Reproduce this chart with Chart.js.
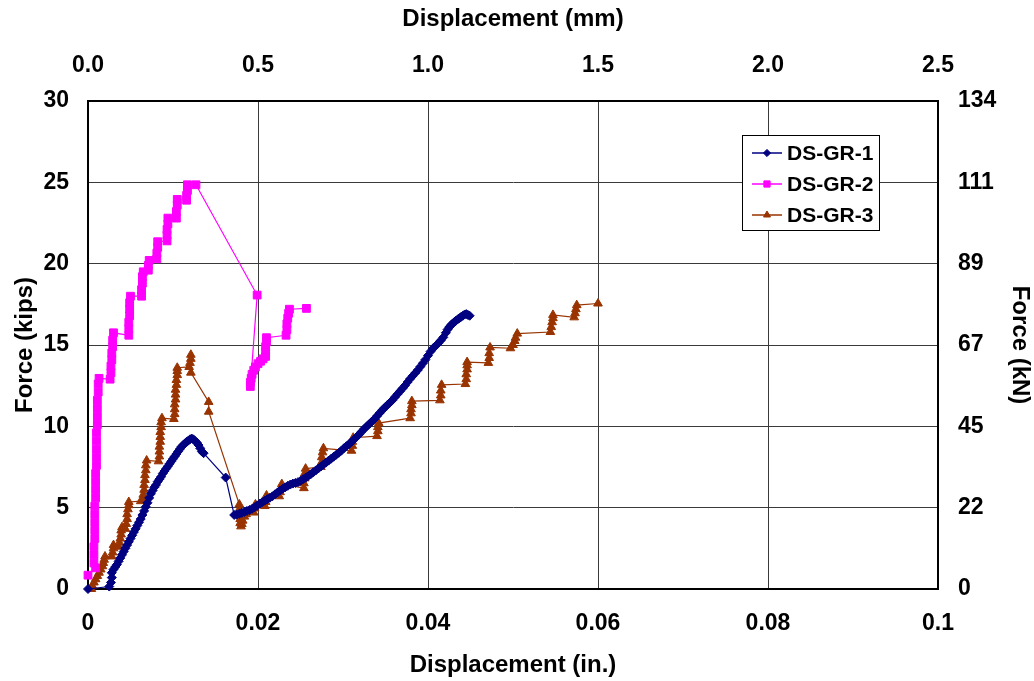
<!DOCTYPE html>
<html>
<head>
<meta charset="utf-8">
<script src="https://cdn.jsdelivr.net/npm/chart.js@4"></script>
<style>
  body { margin: 0; background: #fff; }
  canvas { display: block; }
</style>
</head>
<body>
<canvas id="chart" width="1034" height="681"></canvas>
<script>
// data (x = displacement in., y = force kips)
const gr1Points = [
  [0, 0], [0.0025, 0.15], [0.0027, 0.4], [0.0028, 0.7], [0.0028, 1.0], [0.0030, 1.2],
  [0.0032, 1.35], [0.0034, 1.5], [0.0036, 1.7], [0.0038, 1.9], [0.0040, 2.1], [0.0042, 2.3],
  [0.0044, 2.5], [0.0046, 2.7], [0.0048, 2.9], [0.0050, 3.1], [0.0052, 3.3], [0.0054, 3.5],
  [0.0056, 3.7], [0.0058, 3.9], [0.0060, 4.1], [0.0062, 4.3], [0.0064, 4.55], [0.0066, 4.8],
  [0.0068, 5.05], [0.0070, 5.3], [0.0072, 5.6], [0.0074, 5.85], [0.0076, 6.05], [0.0078, 6.25],
  [0.0080, 6.4], [0.0082, 6.6], [0.0084, 6.75], [0.0086, 6.9], [0.0088, 7.1], [0.0090, 7.25],
  [0.0092, 7.4], [0.0094, 7.55], [0.0096, 7.7], [0.0098, 7.85], [0.0100, 8.0], [0.0102, 8.15],
  [0.0104, 8.3], [0.0106, 8.45], [0.0108, 8.6], [0.0110, 8.75], [0.0112, 8.85], [0.0114, 8.95],
  [0.0116, 9.05], [0.0118, 9.12], [0.0120, 9.2], [0.0122, 9.25], [0.0124, 9.2], [0.0126, 9.1],
  [0.0128, 9.0], [0.0130, 8.85], [0.0132, 8.65], [0.0134, 8.45], [0.0136, 8.35], [0.0162, 6.85],
  [0.0172, 4.55], [0.0175, 4.57], [0.0178, 4.62], [0.0181, 4.68], [0.0184, 4.74], [0.0187, 4.8],
  [0.0190, 4.86], [0.0193, 4.93], [0.0196, 5.02], [0.0199, 5.12], [0.0202, 5.25], [0.0205, 5.34],
  [0.0208, 5.43], [0.0211, 5.52], [0.0214, 5.61], [0.0217, 5.7], [0.0220, 5.82], [0.0223, 5.94],
  [0.0226, 6.06], [0.0229, 6.16], [0.0232, 6.25], [0.0235, 6.34], [0.0238, 6.42], [0.0241, 6.48],
  [0.0244, 6.52], [0.0247, 6.57], [0.0250, 6.65], [0.0253, 6.75], [0.0256, 6.84], [0.0259, 6.95],
  [0.0262, 7.05], [0.0265, 7.17], [0.0268, 7.29], [0.0271, 7.41], [0.0274, 7.53], [0.0277, 7.65],
  [0.0280, 7.77], [0.0283, 7.89], [0.0286, 8.01], [0.0289, 8.13], [0.0292, 8.25], [0.0295, 8.37],
  [0.0298, 8.5], [0.0301, 8.65], [0.0304, 8.78], [0.0307, 8.9], [0.0310, 9.05], [0.0313, 9.2],
  [0.0316, 9.35], [0.0319, 9.5], [0.0322, 9.68], [0.0325, 9.85], [0.0328, 10.0], [0.0331, 10.15],
  [0.0334, 10.3], [0.0337, 10.45], [0.0340, 10.63], [0.0343, 10.81], [0.0346, 10.99], [0.0349, 11.15],
  [0.0352, 11.3], [0.0355, 11.45], [0.0358, 11.6], [0.0361, 11.79], [0.0364, 11.97], [0.0367, 12.15],
  [0.0370, 12.33], [0.0373, 12.51], [0.0376, 12.72], [0.0379, 12.92], [0.0382, 13.1], [0.0385, 13.28],
  [0.0388, 13.46], [0.0391, 13.67], [0.0394, 13.88], [0.0397, 14.1], [0.0400, 14.35], [0.0403, 14.6],
  [0.0406, 14.8], [0.0409, 14.95], [0.0412, 15.1], [0.0415, 15.28], [0.0418, 15.47], [0.0421, 15.75],
  [0.0423, 15.95], [0.0425, 16.1], [0.0427, 16.22], [0.0429, 16.32], [0.0431, 16.42], [0.0433, 16.5],
  [0.0435, 16.58], [0.0437, 16.65], [0.0439, 16.73], [0.0441, 16.8], [0.0443, 16.87], [0.0445, 16.9],
  [0.0447, 16.85], [0.0449, 16.8]
];

const gr2Points = [
  [0, 0.85], [0.0009, 1.3], [0.0007, 1.6], [0.0007, 2.1], [0.0007, 2.6], [0.0008, 3.1],
  [0.0008, 3.6], [0.0008, 4.1], [0.0008, 4.6], [0.0008, 5.1], [0.0009, 5.6], [0.0009, 6.1],
  [0.0009, 6.6], [0.0009, 7.1], [0.0010, 7.6], [0.0010, 8.1], [0.0010, 8.6], [0.0010, 9.1],
  [0.0010, 9.6], [0.0011, 10.1], [0.0011, 10.6], [0.0011, 11.1], [0.0011, 11.6], [0.0012, 12.1],
  [0.0012, 12.6], [0.0013, 12.95], [0.0026, 12.9], [0.0027, 13.3], [0.0027, 13.7], [0.0028, 14.1],
  [0.0028, 14.5], [0.0029, 14.9], [0.0029, 15.3], [0.0030, 15.75], [0.0048, 15.6], [0.0048, 16.0],
  [0.0048, 16.4], [0.0049, 16.8], [0.0049, 17.2], [0.0049, 17.6], [0.0050, 18.0], [0.0063, 18.0],
  [0.0063, 18.4], [0.0064, 18.8], [0.0064, 19.2], [0.0065, 19.5], [0.0071, 19.6], [0.0071, 19.9],
  [0.0072, 20.2], [0.0081, 20.3], [0.0081, 20.65], [0.0082, 21.0], [0.0082, 21.35], [0.0093, 21.4],
  [0.0093, 21.75], [0.0093, 22.1], [0.0094, 22.45], [0.0094, 22.8], [0.0104, 22.8], [0.0104, 23.2],
  [0.0105, 23.6], [0.0105, 23.95], [0.0116, 23.9], [0.0116, 24.2], [0.0117, 24.5], [0.0117, 24.85],
  [0.0127, 24.85], [0.0199, 18.07], [0.0191, 12.45], [0.0191, 12.7], [0.0192, 12.95], [0.0193, 13.2],
  [0.0195, 13.45], [0.0197, 13.65], [0.0200, 13.85], [0.0203, 14.0], [0.0206, 14.15], [0.0209, 14.3],
  [0.0209, 14.6], [0.0209, 14.9], [0.0210, 15.2], [0.0210, 15.45], [0.0233, 15.6], [0.0234, 15.95],
  [0.0234, 16.3], [0.0235, 16.65], [0.0236, 16.95], [0.0237, 17.2], [0.0257, 17.25]
];

const gr3Points = [
  [0.0004, 0.0], [0.0005, 0.2], [0.0007, 0.4], [0.0009, 0.6], [0.0011, 0.8], [0.0013, 1.0],
  [0.0015, 1.2], [0.0017, 1.4], [0.0018, 1.6], [0.0019, 1.8], [0.0020, 2.0], [0.0028, 2.0],
  [0.0029, 2.25], [0.0030, 2.5], [0.0030, 2.7], [0.0036, 2.6], [0.0037, 2.85], [0.0038, 3.1],
  [0.0039, 3.35], [0.0039, 3.6], [0.0040, 3.8], [0.0044, 3.7], [0.0045, 4.0], [0.0046, 4.3],
  [0.0046, 4.6], [0.0047, 4.9], [0.0048, 5.15], [0.0048, 5.35], [0.0062, 5.4], [0.0065, 5.5],
  [0.0065, 5.8], [0.0066, 6.1], [0.0066, 6.4], [0.0067, 6.7], [0.0067, 7.0], [0.0068, 7.3],
  [0.0068, 7.6], [0.0069, 7.9], [0.0083, 7.85], [0.0084, 8.15], [0.0084, 8.45], [0.0084, 8.75],
  [0.0085, 9.05], [0.0085, 9.35], [0.0085, 9.65], [0.0086, 9.95], [0.0086, 10.25], [0.0087, 10.5],
  [0.0101, 10.45], [0.0102, 10.75], [0.0102, 11.05], [0.0102, 11.35], [0.0103, 11.65], [0.0103, 11.95],
  [0.0103, 12.25], [0.0104, 12.55], [0.0104, 12.85], [0.0105, 13.15], [0.0105, 13.4], [0.0105, 13.6],
  [0.0119, 13.65], [0.0120, 13.9], [0.0121, 14.15], [0.0121, 14.4], [0.0121, 13.3], [0.0142, 11.5],
  [0.0142, 10.9], [0.0178, 5.2], [0.0178, 4.9], [0.0178, 4.6], [0.0179, 4.3], [0.0179, 4.05],
  [0.0180, 3.85], [0.0181, 4.0], [0.0182, 4.2], [0.0184, 4.45], [0.0186, 4.6], [0.0195, 4.7],
  [0.0196, 4.95], [0.0197, 5.2], [0.0208, 5.1], [0.0209, 5.35], [0.0210, 5.6], [0.0210, 5.75],
  [0.0225, 5.7], [0.0226, 5.95], [0.0227, 6.2], [0.0228, 6.45], [0.0254, 6.2], [0.0254, 6.5],
  [0.0255, 6.8], [0.0255, 7.1], [0.0256, 7.4], [0.0274, 7.5], [0.0275, 7.8], [0.0275, 8.1],
  [0.0276, 8.4], [0.0277, 8.65], [0.0310, 8.5], [0.0311, 8.8], [0.0311, 9.05], [0.0312, 9.3],
  [0.0340, 9.4], [0.0341, 9.7], [0.0341, 9.95], [0.0342, 10.2], [0.0379, 10.5], [0.0380, 10.8],
  [0.0380, 11.05], [0.0381, 11.3], [0.0381, 11.55], [0.0414, 11.6], [0.0415, 11.9], [0.0415, 12.2],
  [0.0416, 12.55], [0.0444, 12.6], [0.0445, 12.9], [0.0445, 13.2], [0.0446, 13.5], [0.0446, 13.75],
  [0.0446, 13.95], [0.0471, 13.9], [0.0472, 14.2], [0.0472, 14.5], [0.0473, 14.85], [0.0497, 14.8],
  [0.0500, 15.0], [0.0502, 15.25], [0.0503, 15.45], [0.0505, 15.7], [0.0544, 15.8], [0.0545, 16.1],
  [0.0546, 16.4], [0.0547, 16.65], [0.0547, 16.85], [0.0572, 16.7], [0.0573, 16.95], [0.0574, 17.2],
  [0.0575, 17.45], [0.0600, 17.55]
];

const seriesNames = ['DS-GR-1', 'DS-GR-2', 'DS-GR-3'];
const seriesColors = ['#000080', '#FF00FF', '#993300'];
const seriesMarkers = ['rectRot', 'rect', 'triangle'];

const inchTickLabels = ['0', '0.02', '0.04', '0.06', '0.08', '0.1'];
const mmTickLabels = ['0.0', '0.5', '1.0', '1.5', '2.0', '2.5'];
const kipTickLabels = ['0', '5', '10', '15', '20', '25', '30'];
const kNTickLabels = ['0', '22', '45', '67', '89', '111', '134'];

const FONT = '"Liberation Sans", Arial, sans-serif';
const tickFont = { family: FONT, size: 23, weight: 'bold' };
const titleFont = { family: FONT, size: 24, weight: 'bold' };

function toXY(pts) {
  return pts.map(p => ({ x: p[0], y: p[1] }));
}

const markerRadius = [4.5, 5.5, 5];
const datasets = [gr1Points, gr2Points, gr3Points].map((pts, i) => ({
  label: seriesNames[i],
  data: toXY(pts),
  borderColor: seriesColors[i],
  backgroundColor: seriesColors[i],
  borderWidth: 1.2,
  pointStyle: seriesMarkers[i],
  pointRadius: markerRadius[i],
  pointBorderWidth: 1,
  pointHoverRadius: markerRadius[i],
  tension: 0,
  clip: false,
  xAxisID: 'x',
  yAxisID: 'y'
}));

// legend box drawn inside the plot, like the original
const boxLegend = {
  id: 'boxLegend',
  afterDatasetsDraw(chart) {
    const ctx = chart.ctx;
    const bx = 742.5, by = 135.5, bw = 137, bh = 95;
    ctx.save();
    ctx.fillStyle = '#fff';
    ctx.fillRect(bx, by, bw, bh);
    ctx.strokeStyle = '#000';
    ctx.lineWidth = 1;
    ctx.strokeRect(bx, by, bw, bh);
    const rows = [153, 184, 215];
    seriesNames.forEach((name, i) => {
      const y = rows[i];
      ctx.strokeStyle = seriesColors[i];
      ctx.lineWidth = 1.5;
      ctx.beginPath();
      ctx.moveTo(752, y);
      ctx.lineTo(782, y);
      ctx.stroke();
      ctx.fillStyle = seriesColors[i];
      ctx.strokeStyle = seriesColors[i];
      ctx.lineWidth = 1;
      Chart.helpers.drawPoint(ctx, { pointStyle: seriesMarkers[i], radius: markerRadius[i] * 0.8, borderWidth: 1 }, 767, y);
      ctx.fillStyle = '#000';
      ctx.font = 'bold 21px ' + FONT;
      ctx.textBaseline = 'middle';
      ctx.textAlign = 'left';
      ctx.fillText(name, 787, y + 1);
    });
    ctx.restore();
  }
};

const gridColor = '#3a3a3a';

new Chart(document.getElementById('chart'), {
  type: 'line',
  data: { datasets },
  plugins: [boxLegend],
  options: {
    responsive: false,
    animation: false,
    devicePixelRatio: 1,
    layout: { padding: 0 },
    plugins: {
      legend: { display: false },
      tooltip: { enabled: false }
    },
    scales: {
      x: {
        type: 'linear',
        position: 'bottom',
        min: 0,
        max: 0.1,
        ticks: {
          stepSize: 0.02,
          padding: 21,
          color: '#000',
          font: tickFont,
          maxRotation: 0,
          callback: (v, i) => inchTickLabels[i]
        },
        grid: { color: gridColor, lineWidth: 1, drawTicks: false },
        border: { display: true, color: '#000', width: 2 },
        title: { display: true, text: 'Displacement (in.)', color: '#000', font: titleFont, padding: { top: 0, bottom: 1 } },
        afterFit: s => { s.height = 92; }
      },
      x2: {
        type: 'linear',
        position: 'top',
        min: 0,
        max: 2.5,
        ticks: {
          stepSize: 0.5,
          padding: 22,
          color: '#000',
          font: tickFont,
          maxRotation: 0,
          callback: (v, i) => mmTickLabels[i]
        },
        grid: { display: false, drawTicks: false },
        border: { display: true, color: '#000', width: 2 },
        title: { display: true, text: 'Displacement (mm)', color: '#000', font: titleFont, padding: { top: 5, bottom: 0 } },
        afterFit: s => { s.height = 101; }
      },
      y: {
        type: 'linear',
        position: 'left',
        min: 0,
        max: 30,
        ticks: {
          stepSize: 5,
          padding: 19,
          color: '#000',
          font: tickFont,
          callback: (v, i) => kipTickLabels[i]
        },
        grid: { color: gridColor, lineWidth: 1, drawTicks: false },
        border: { display: true, color: '#000', width: 2 },
        title: { display: true, text: 'Force (kips)', color: '#000', font: titleFont, padding: { top: 11, bottom: 0 } },
        afterFit: s => { s.width = 88; }
      },
      y2: {
        type: 'linear',
        position: 'right',
        min: 0,
        max: 30,
        ticks: {
          stepSize: 5,
          padding: 20,
          color: '#000',
          font: tickFont,
          callback: (v, i) => kNTickLabels[i]
        },
        grid: { display: false, drawTicks: false },
        border: { display: true, color: '#000', width: 2 },
        title: { display: true, text: 'Force (kN)', color: '#000', font: titleFont, padding: { top: 0, bottom: 0 } },
        afterFit: s => { s.width = 96; }
      }
    }
  }
});
</script>
</body>
</html>
